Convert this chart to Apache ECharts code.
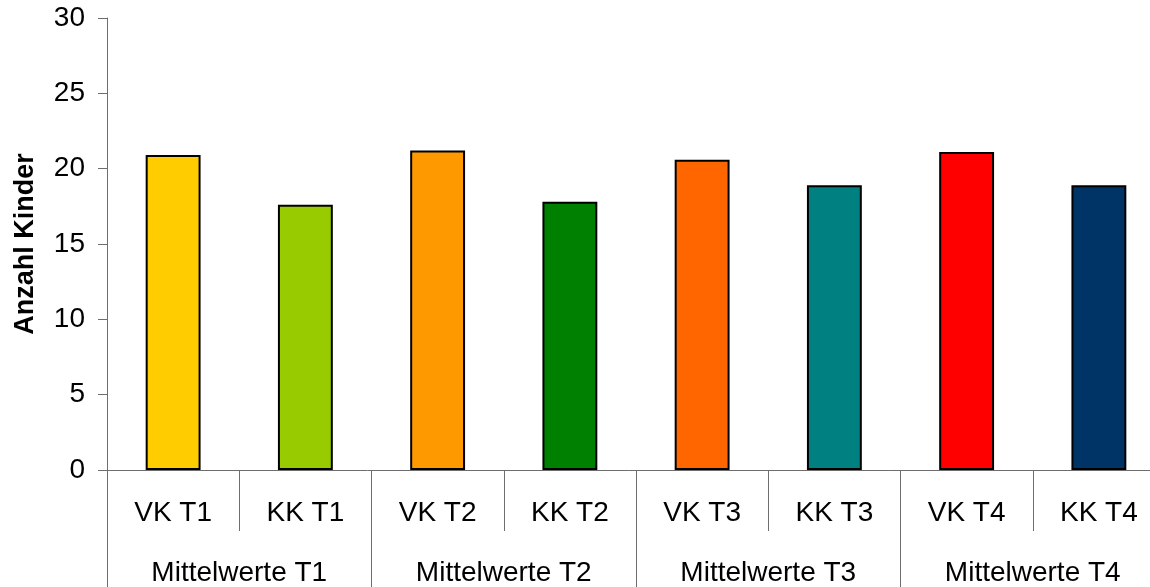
<!DOCTYPE html>
<html>
<head>
<meta charset="utf-8">
<script src="https://cdn.jsdelivr.net/npm/echarts@6/dist/echarts.min.js"></script>
<style>
  html, body { margin: 0; padding: 0; background: #fff; }
  #chart { width: 1150px; height: 587px; }
</style>
</head>
<body>
<div id="chart"></div>
<script>
// Inner categories (one bar each) and the outer groups they belong to
const categories = ['VK T1', 'KK T1', 'VK T2', 'KK T2', 'VK T3', 'KK T3', 'VK T4', 'KK T4'];
const groups = ['Mittelwerte T1', 'Mittelwerte T2', 'Mittelwerte T3', 'Mittelwerte T4'];
const values = [20.9, 17.6, 21.2, 17.8, 20.6, 18.9, 21.1, 18.9];
const yTitle = 'Anzahl Kinder';

const barColors = ['#FFCC00', '#99CC00', '#FF9900', '#008000', '#FF6600', '#008080', '#FF0000', '#003366'];

const FONT = '"Liberation Sans", Arial, sans-serif';
const AXIS_GREY = '#6e6e6e';

const chart = echarts.init(document.getElementById('chart'), null, { renderer: 'canvas' });

chart.setOption({
  animation: false,
  backgroundColor: '#ffffff',
  // the plot runs past the right edge of the canvas, so bounds are not clamped
  grid: { left: 107, top: 18, width: 1058, bottom: 117, containLabel: false, outerBoundsMode: 'none' },
  xAxis: [
    {
      type: 'category',
      data: categories,
      position: 'bottom',
      axisLine: { show: true, lineStyle: { color: AXIS_GREY, width: 1 } },
      axisTick: { show: true, length: 61, lineStyle: { color: AXIS_GREY, width: 1 } },
      axisLabel: { color: '#000', fontFamily: FONT, fontSize: 28, margin: 29 }
    },
    {
      type: 'category',
      data: groups,
      position: 'bottom',
      axisLine: { show: false },
      axisTick: { show: true, length: 125, lineStyle: { color: AXIS_GREY, width: 1 } },
      axisLabel: { color: '#000', fontFamily: FONT, fontSize: 28, margin: 89 }
    }
  ],
  yAxis: {
    type: 'value',
    min: 0,
    max: 30,
    interval: 5,
    name: yTitle,
    nameLocation: 'middle',
    nameGap: 68,
    nameRotate: 90,
    nameTextStyle: { color: '#000', fontFamily: FONT, fontSize: 27, fontWeight: 'bold' },
    axisLine: { show: true, lineStyle: { color: AXIS_GREY, width: 1 } },
    axisTick: { show: true, length: 9, lineStyle: { color: AXIS_GREY, width: 1 } },
    axisLabel: { color: '#000', fontFamily: FONT, fontSize: 28, margin: 22 },
    splitLine: { show: false }
  },
  series: [
    {
      type: 'bar',
      xAxisIndex: 0,
      barWidth: '41.5%',
      data: values.map((v, i) => ({
        value: v,
        itemStyle: { color: barColors[i], borderColor: '#000', borderWidth: 2 }
      }))
    }
  ]
});
</script>
</body>
</html>
